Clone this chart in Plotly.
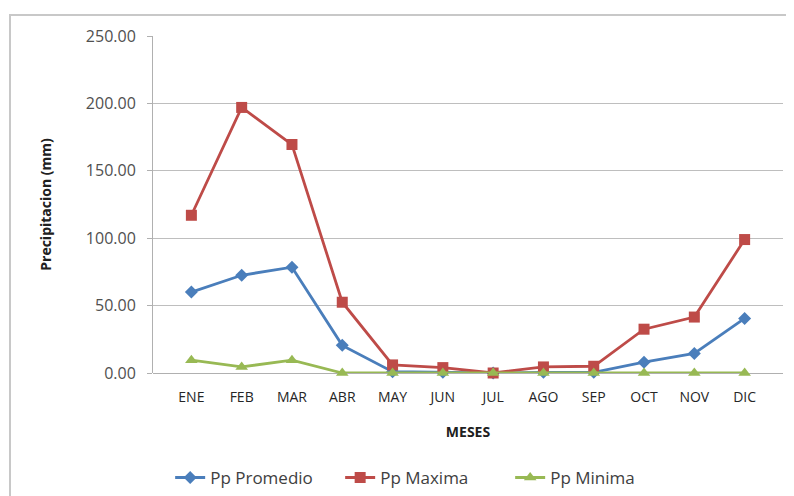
import plotly.graph_objects as go

meses = ["ENE", "FEB", "MAR", "ABR", "MAY", "JUN", "JUL", "AGO", "SEP", "OCT", "NOV", "DIC"]
pp_promedio = [60.0, 72.5, 78.5, 20.5, 1.0, 0.5, 0.0, 0.5, 0.5, 8.0, 14.5, 40.5]
pp_maxima = [117.0, 197.0, 169.5, 52.5, 6.0, 4.0, 0.0, 4.5, 5.0, 32.5, 41.5, 99.0]
pp_minima = [9.5, 4.5, 9.5, 0.0, 0.0, 0.0, 0.0, 0.0, 0.0, 0.0, 0.0, 0.0]
y_ticks = [0, 50, 100, 150, 200, 250]

FONT = "'Open Sans', Lato, sans-serif"

fig = go.Figure()
series = [
    ("Pp Promedio", pp_promedio, "#4A7EBB", "diamond", 10),
    ("Pp Maxima", pp_maxima, "#BE4B48", "square", 11),
    ("Pp Minima", pp_minima, "#98B954", "triangle-up", 11),
]
for name, vals, col, sym, sz in series:
    fig.add_trace(go.Scatter(
        x=meses, y=vals, name=name, mode="lines+markers",
        line=dict(color=col, width=2.8),
        marker=dict(symbol=sym, size=sz, color=col),
        cliponaxis=False,
    ))

# page has an 8px body margin, so figure is sized to fit the 794x496 window
fig.update_layout(
    width=786, height=488,
    margin=dict(l=145, r=11, t=28, b=123),
    paper_bgcolor="white", plot_bgcolor="white",
    font=dict(family=FONT, color="#404040"),
    showlegend=True,
    legend=dict(orientation="h", x=0.432, xanchor="center",
                yref="container", y=0.037, yanchor="middle",
                font=dict(size=17, color="#404040"), tracegroupgap=0, entrywidth=125),
    xaxis=dict(
        type="category", showgrid=False, showline=False, zeroline=False,
        tickfont=dict(size=14, color="#262626"), ticks="", ticklabelstandoff=14,
        title=dict(text="<b>MESES</b>", font=dict(size=14, color="#202020"), standoff=22),
        automargin=False,
    ),
    yaxis=dict(
        range=[0, 250], tickvals=y_ticks, tickformat=".2f",
        showgrid=True, gridcolor="#BEBEBE", gridwidth=1,
        showline=True, linecolor="#B0B0B0", linewidth=1,
        zeroline=True, zerolinecolor="#B0B0B0", zerolinewidth=1,
        ticks="outside", ticklen=5, tickcolor="#B0B0B0", ticklabelstandoff=8,
        tickfont=dict(size=16, color="#505050"),
        title=dict(text="<b>Precipitacion (mm)</b>", font=dict(size=14, color="#202020"), standoff=30),
        automargin=False,
    ),
    shapes=[dict(type="rect", xref="paper", yref="paper",
                 x0=-0.227, x1=1.04, y0=-0.4, y1=1.062,
                 line=dict(color="#C8C8C8", width=2), fillcolor="rgba(0,0,0,0)", layer="below")],
)

fig.write_html("out.html")
